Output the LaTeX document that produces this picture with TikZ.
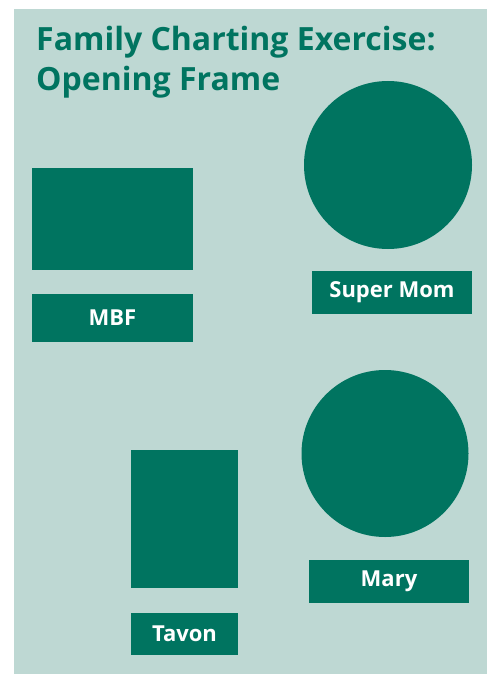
\documentclass[tikz,border=0pt]{standalone}
\usepackage{fontspec}
\setmainfont{Open Sans}
\usepackage{tikz}
\usetikzlibrary{positioning}

\definecolor{FamTeal}{HTML}{007460}
\definecolor{FamMist}{HTML}{BED8D3}

\tikzset{
  person/.style={fill=FamTeal, draw=none, inner sep=0pt, outer sep=0pt},
  tag/.style={fill=FamTeal, text=white, inner sep=0pt, outer sep=0pt,
    font=\fontsize{22}{26}\selectfont\bfseries}
}

\begin{document}
\begin{tikzpicture}[x=1pt, y=-1pt]
  \useasboundingbox (0,0) rectangle (487,674);
  \fill[FamMist] (14,9) rectangle (487,674);
  % heading
  \node[anchor=north west, align=left, inner sep=0pt, text=FamTeal,
    font=\fontsize{32}{40}\selectfont\bfseries] (title) at (36,26)
    {Family Charting Exercise:\\Opening Frame};
  % males
  \node[person, rectangle, minimum width=161pt, minimum height=102pt] (mbf) at (112.5,219) {};
  \node[tag, minimum width=161pt, minimum height=48pt] (mbflabel) at (112.5,318) {MBF};
  \node[person, rectangle, minimum width=107pt, minimum height=138pt] (tavon) at (184.5,519) {};
  \node[tag, minimum width=107pt, minimum height=42pt] (tavonlabel) at (184.5,634) {Tavon};
  % females
  \node[person, circle, minimum size=168pt] (supermom) at (388,165) {};
  \node[tag, minimum width=160pt, minimum height=43pt] (supermomlabel) at (392,292.5) {Super Mom};
  \node[person, circle, minimum size=167pt] (mary) at (385,453.5) {};
  \node[tag, minimum width=160pt, minimum height=43pt] (marylabel) at (389,581.5) {Mary};
\end{tikzpicture}
\end{document}
